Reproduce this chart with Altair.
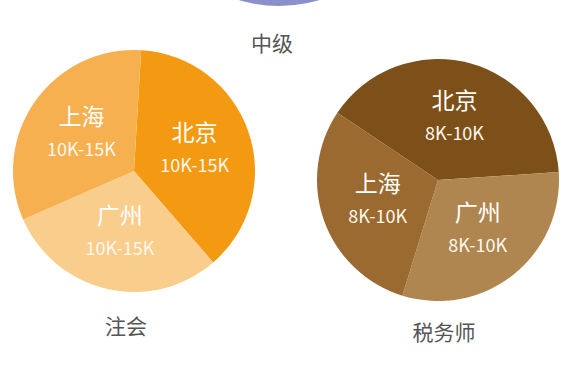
import math
import altair as alt
import pandas as pd

# ---- data ----
cities = ["北京", "广州", "上海"]            # clockwise order
cpa_share = [37.7, 29.8, 32.5]               # 注会 slice shares (%)
tax_share = [39.6, 30.8, 29.6]               # 税务师 slice shares (%)
cpa_salary = ["10K-15K", "10K-15K", "10K-15K"]
tax_salary = ["8K-10K", "8K-10K", "8K-10K"]
groups = ["中级", "注会", "税务师"]

FONT = "Noto Sans CJK SC"
R = 121
LABEL_R = 64


def make_df(shares, salaries):
    return pd.DataFrame({"city": cities, "share": shares, "salary": salaries,
                         "idx": list(range(len(cities)))})


def pie(df, cx, cy, start_deg, colors):
    a0 = math.radians(start_deg)
    theta = alt.Theta("share:Q", stack=True,
                      scale=alt.Scale(domain=[0, 100], range=[a0, a0 + 2 * math.pi]))
    color = alt.Color("city:N", scale=alt.Scale(domain=cities, range=colors), legend=None)
    order = alt.Order("idx:Q")
    base = alt.Chart(df)
    arc = base.mark_arc(radius=R, stroke=None).encode(
        theta=theta, color=color, order=order,
        x=alt.value(cx), y=alt.value(cy))
    name = base.mark_text(font=FONT, fontSize=23, color="white", dy=-16).encode(
        theta=theta, order=order, text="city:N",
        radius=alt.value(LABEL_R), x=alt.value(cx), y=alt.value(cy))
    sal = base.mark_text(font=FONT, fontSize=18, color="#FFF8EE", dy=17).encode(
        theta=theta, order=order, text="salary:N",
        radius=alt.value(LABEL_R), x=alt.value(cx), y=alt.value(cy))
    return alt.layer(arc, name, sal).resolve_scale(color="independent")


left = pie(make_df(cpa_share, cpa_salary), 134, 171, 3.4,
           ["#F39A12", "#F9CD8C", "#F6B04F"])
right = pie(make_df(tax_share, tax_salary), 438, 180, -56.3,
            ["#7D5019", "#B08650", "#9A6A30"])

top_df = pd.DataFrame({"group": [groups[0]], "share": [100]})
top = alt.Chart(top_df).mark_arc(radius=140, color="#8A90CC").encode(
    theta=alt.Theta("share:Q", stack=True, scale=alt.Scale(domain=[0, 100])),
    x=alt.value(279), y=alt.value(-134))

lab_df = pd.DataFrame({"group": groups})
labels = []
for g, (lx, ly) in zip(groups, [(272, 45), (126, 328), (444, 334)]):
    labels.append(
        alt.Chart(lab_df).transform_filter(alt.datum.group == g)
        .mark_text(font=FONT, fontSize=21, color="#555555")
        .encode(text="group:N", x=alt.value(lx), y=alt.value(ly))
    )

chart = alt.layer(top, left, right, *labels).resolve_scale(
    theta="independent", color="independent"
).properties(
    width=580, height=378, padding=0,
    autosize=alt.AutoSizeParams(type="none"),
    background="white",
).configure_view(stroke=None)

chart.save("out.html", embed_options={"renderer": "svg", "actions": False})
